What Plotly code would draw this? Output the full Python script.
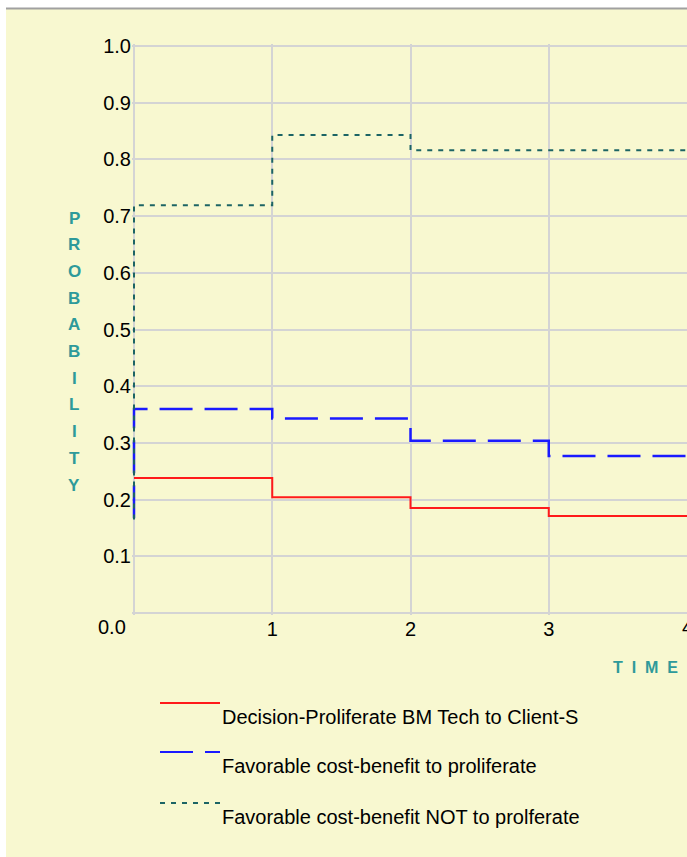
import plotly.graph_objects as go

# step data (time, probability)
time_red = [0, 1, 2, 3, 4]
decision = [0.238, 0.204, 0.185, 0.171, 0.171]

time_cb = [0, 0, 1, 2, 3, 4]
favorable = [0.167, 0.360, 0.343, 0.304, 0.277, 0.277]
not_favorable = [0.165, 0.719, 0.843, 0.816, 0.816, 0.816]

names = ["Decision-Proliferate BM Tech to Client-S",
         "Favorable cost-benefit to proliferate",
         "Favorable cost-benefit NOT to prolferate"]
colors = ["#FF1A1A", "#1A1AFF", "#1C6464"]
dashes = ["solid", "33px,12px", "5px,6px"]

x_ticks = [0, 1, 2, 3, 4]
x_labels = ["", "1", "2", "3", "4"]
y_ticks = [0.1, 0.2, 0.3, 0.4, 0.5, 0.6, 0.7, 0.8, 0.9, 1.0]

W, H = 687, 857
L, R, T, B = 132, 0, 44, 242
BG = "#F8F8D0"
TEAL = "#2E9A9A"
FONT = "Liberation Sans"


def px(x):
    return (x - L) / (W - L - R)


def py(y):
    return (H - B - y) / (H - T - B)


fig = go.Figure()
fig.add_trace(go.Scatter(x=time_red, y=decision, mode="lines", line_shape="hv",
                         line=dict(color=colors[0], width=2, dash=dashes[0])))
fig.add_trace(go.Scatter(x=time_cb, y=favorable, mode="lines", line_shape="hv",
                         line=dict(color=colors[1], width=2.5, dash=dashes[1])))
fig.add_trace(go.Scatter(x=time_cb, y=not_favorable, mode="lines", line_shape="hv",
                         line=dict(color=colors[2], width=2, dash=dashes[2])))

shapes = [
    # window chrome at the top / left
    dict(type="rect", xref="paper", yref="paper", x0=px(0), x1=px(W), y0=py(0), y1=py(8),
         fillcolor="white", line_width=0, layer="above"),
    dict(type="line", xref="paper", yref="paper", x0=px(0), x1=px(W), y0=py(8.5), y1=py(8.5),
         line=dict(color="#A0A0A0", width=2), layer="above"),
    dict(type="rect", xref="paper", yref="paper", x0=px(0), x1=px(6), y0=py(0), y1=py(H),
         fillcolor="white", line_width=0, layer="above"),
]
annotations = []

# hand-drawn legend
leg_y = [703, 752, 803]
for k in range(3):
    shapes.append(dict(type="line", xref="paper", yref="paper",
                       x0=px(160), x1=px(220), y0=py(leg_y[k]), y1=py(leg_y[k]),
                       line=dict(color=colors[k], width=2, dash=dashes[k])))
    annotations.append(dict(text=names[k], xref="paper", yref="paper",
                            x=px(220), y=py(leg_y[k] + 14), xanchor="left", yanchor="middle",
                            showarrow=False, font=dict(family=FONT, size=20, color="black")))

# stacked y title
for k, ch in enumerate("PROBABILITY"):
    annotations.append(dict(text="<b>%s</b>" % ch, xref="paper", yref="paper",
                            x=px(74), y=py(218 + k * 26.7), xanchor="center", yanchor="middle",
                            showarrow=False, font=dict(family=FONT, size=17, color=TEAL)))

annotations.append(dict(text="<b>T  I  M  E</b>", xref="paper", yref="paper",
                        x=px(680), y=py(668), xanchor="right", yanchor="middle",
                        showarrow=False, font=dict(family=FONT, size=16, color=TEAL)))
annotations.append(dict(text="0.0", xref="paper", yref="paper",
                        x=px(128), y=py(627), xanchor="right", yanchor="middle",
                        showarrow=False, font=dict(family=FONT, size=20, color="black")))
# last x label sits on the cropped right edge
annotations.append(dict(text=x_labels[-1], xref="x", yref="paper",
                        x=x_ticks[-1], y=py(627), xanchor="center", yanchor="middle",
                        showarrow=False, font=dict(family=FONT, size=20, color="black")))

fig.update_layout(
    width=W, height=H,
    margin=dict(l=L, r=R, t=T, b=B),
    paper_bgcolor=BG, plot_bgcolor=BG,
    showlegend=False,
    shapes=shapes,
    annotations=annotations,
    font=dict(family=FONT, size=20, color="black"),
    xaxis=dict(range=[-0.0145, 4.0], tickvals=x_ticks, ticktext=x_labels,
               showgrid=True, gridcolor="#D4D4D4", gridwidth=2,
               zeroline=False, showline=False, ticks=""),
    yaxis=dict(range=[-0.0035, 1.0035], tickvals=[0.0] + y_ticks,
               ticktext=[""] + ["%.1f" % v for v in y_ticks],
               showgrid=True, gridcolor="#D4D4D4", gridwidth=2,
               zeroline=False, showline=False, ticks=""),
)

fig.write_html("out.html", config={"displayModeBar": False},
               post_script="document.body.style.margin='0';")
